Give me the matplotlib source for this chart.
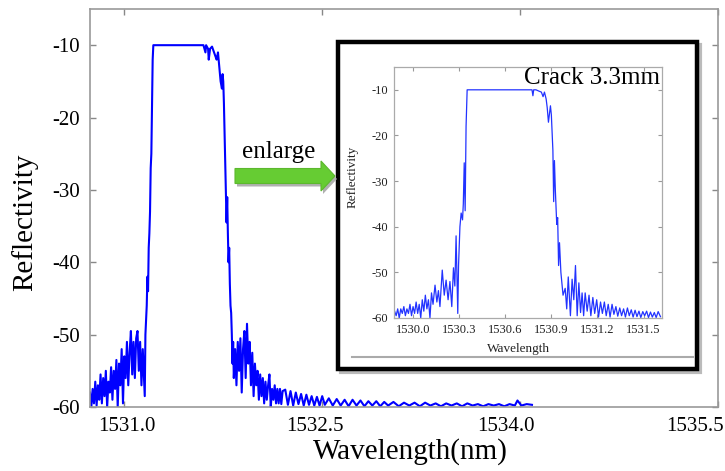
import matplotlib
matplotlib.use("Agg")
import matplotlib.pyplot as plt
import matplotlib.transforms as mtransforms
from matplotlib.patches import FancyArrow, Rectangle
from matplotlib.lines import Line2D

plt.rcParams['font.family'] = ['Liberation Serif', 'DejaVu Serif']
plt.rcParams['axes.unicode_minus'] = False

# espectro principal
wl_main = [1530.74, 1530.75, 1530.76, 1530.77, 1530.78, 1530.79, 1530.80, 1530.81,
           1530.82, 1530.83, 1530.84, 1530.85, 1530.86, 1530.87, 1530.88, 1530.89,
           1530.90, 1530.91, 1530.92, 1530.93, 1530.94, 1530.95, 1530.96, 1530.97,
           1530.98, 1530.99, 1531.00, 1531.01, 1531.02, 1531.03, 1531.04, 1531.05,
           1531.06, 1531.07, 1531.08, 1531.09, 1531.10, 1531.11, 1531.12, 1531.13,
           1531.14, 1531.155, 1531.16, 1531.17, 1531.175, 1531.18, 1531.185, 1531.19,
           1531.195, 1531.20, 1531.205, 1531.21, 1531.215, 1531.22, 1531.40, 1531.60,
           1531.615, 1531.62, 1531.635, 1531.64, 1531.65, 1531.665, 1531.68, 1531.69,
           1531.70, 1531.71, 1531.72, 1531.73, 1531.74, 1531.745, 1531.75, 1531.755,
           1531.76, 1531.765, 1531.77, 1531.775, 1531.78, 1531.785, 1531.79, 1531.795,
           1531.80, 1531.805, 1531.81, 1531.815, 1531.82, 1531.825, 1531.83, 1531.84,
           1531.85, 1531.86, 1531.87, 1531.88, 1531.89, 1531.90, 1531.91, 1531.92,
           1531.93, 1531.94, 1531.95, 1531.96, 1531.97, 1531.98, 1531.99, 1532.00,
           1532.01, 1532.02, 1532.03, 1532.04, 1532.05, 1532.06, 1532.07, 1532.08,
           1532.09, 1532.10, 1532.11, 1532.12, 1532.13, 1532.14, 1532.15, 1532.16,
           1532.17, 1532.18, 1532.19, 1532.20, 1532.22, 1532.24, 1532.26, 1532.28,
           1532.30, 1532.32, 1532.34, 1532.36, 1532.38, 1532.40, 1532.42, 1532.44,
           1532.46, 1532.48, 1532.50, 1532.52, 1532.55, 1532.58, 1532.61, 1532.64,
           1532.67, 1532.70, 1532.73, 1532.76, 1532.79, 1532.82, 1532.85, 1532.88,
           1532.91, 1532.94, 1532.97, 1533.00, 1533.04, 1533.08, 1533.12, 1533.16,
           1533.20, 1533.24, 1533.28, 1533.32, 1533.36, 1533.40, 1533.44, 1533.48,
           1533.52, 1533.56, 1533.60, 1533.64, 1533.68, 1533.72, 1533.76, 1533.80,
           1533.84, 1533.88, 1533.92, 1533.96, 1533.98, 1534.01, 1534.05, 1534.09]
r_main = [-58.0, -60.0, -57.5, -59.5, -56.5, -59.8, -57.0, -59.0,
          -55.5, -59.5, -56.0, -58.5, -55.0, -60.0, -56.5, -58.0,
          -54.5, -59.0, -55.0, -57.5, -53.5, -60.0, -54.0, -57.0,
          -52.0, -59.5, -53.0, -56.0, -51.0, -57.0, -52.5, -49.5,
          -55.5, -51.0, -56.0, -50.5, -49.5, -55.0, -51.0, -57.0,
          -52.0, -58.5, -50.0, -46.0, -42.0, -44.0, -38.0, -36.0,
          -33.0, -27.0, -25.0, -18.0, -12.0, -10.0, -10.0, -10.0,
          -11.0, -10.0, -10.5, -12.0, -10.5, -10.2, -11.0, -11.5,
          -12.0, -11.0, -13.0, -15.0, -16.0, -14.0, -15.0, -18.0,
          -22.0, -26.0, -30.0, -34.5, -31.0, -36.0, -40.0, -38.0,
          -43.0, -46.0, -47.0, -50.0, -54.0, -51.0, -56.0, -52.0,
          -57.0, -51.0, -55.0, -50.5, -58.0, -52.0, -49.5, -56.0,
          -48.5, -54.0, -51.0, -57.0, -52.5, -58.5, -54.0, -57.0,
          -55.0, -59.0, -55.5, -58.5, -56.0, -59.5, -56.5, -59.0,
          -57.0, -55.5, -60.0, -57.5, -59.0, -57.0, -59.5, -57.5,
          -59.5, -57.5, -59.6, -57.8, -57.6, -59.7, -57.8, -59.8,
          -58.0, -59.6, -58.2, -59.8, -58.3, -59.7, -58.5, -59.8,
          -58.6, -59.8, -58.5, -59.7, -58.8, -59.8, -58.9, -59.8,
          -59.0, -59.9, -59.0, -59.8, -59.1, -59.9, -59.2, -59.8,
          -59.2, -59.9, -59.3, -59.8, -59.3, -59.9, -59.4, -59.8,
          -59.4, -59.9, -59.4, -59.8, -59.5, -59.9, -59.5, -59.8,
          -59.5, -59.9, -59.5, -59.8, -59.6, -59.9, -59.6, -59.8,
          -59.6, -59.9, -59.6, -59.8, -59.1, -59.8, -59.6, -59.7]

# espectro del recuadro ampliado
wl_ins = [1529.88, 1529.89, 1529.90, 1529.91, 1529.92, 1529.93, 1529.94, 1529.95,
          1529.96, 1529.97, 1529.98, 1529.99, 1530.00, 1530.01, 1530.02, 1530.03,
          1530.04, 1530.05, 1530.06, 1530.07, 1530.08, 1530.09, 1530.10, 1530.11,
          1530.12, 1530.13, 1530.143, 1530.155, 1530.165, 1530.175, 1530.19, 1530.203,
          1530.215, 1530.228, 1530.24, 1530.252, 1530.263, 1530.272, 1530.28, 1530.291,
          1530.296, 1530.305, 1530.313, 1530.322, 1530.327, 1530.333, 1530.339, 1530.345,
          1530.352, 1530.60, 1530.774, 1530.78, 1530.785, 1530.80, 1530.82, 1530.835,
          1530.846, 1530.855, 1530.866, 1530.873, 1530.881, 1530.894, 1530.90, 1530.91,
          1530.915, 1530.92, 1530.926, 1530.935, 1530.941, 1530.947, 1530.953, 1530.962,
          1530.976, 1530.99, 1531.00, 1531.01, 1531.024, 1531.035, 1531.046, 1531.057,
          1531.068, 1531.079, 1531.09, 1531.10, 1531.11, 1531.12, 1531.133, 1531.145,
          1531.157, 1531.17, 1531.182, 1531.195, 1531.207, 1531.22, 1531.232, 1531.245,
          1531.257, 1531.27, 1531.282, 1531.295, 1531.307, 1531.32, 1531.332, 1531.345,
          1531.357, 1531.37, 1531.382, 1531.395, 1531.407, 1531.42, 1531.432, 1531.445,
          1531.457, 1531.47, 1531.482, 1531.495, 1531.507, 1531.52, 1531.532, 1531.545,
          1531.557, 1531.57, 1531.582, 1531.595, 1531.61]
r_ins = [-58.5, -59.5, -58.0, -60.0, -58.0, -59.0, -57.5, -59.5,
         -58.0, -59.0, -57.0, -59.5, -57.5, -59.0, -56.5, -59.0,
         -57.0, -60.0, -56.0, -58.5, -55.0, -58.0, -56.0, -60.0,
         -54.5, -57.0, -52.8, -56.5, -54.0, -57.5, -49.5, -55.0,
         -51.7, -56.0, -52.0, -57.5, -49.0, -53.0, -42.0, -59.0,
         -48.5, -40.0, -37.0, -38.5, -35.0, -26.0, -36.5, -18.0,
         -10.0, -10.0, -10.0, -11.3, -10.0, -10.0, -10.3, -10.5,
         -11.5, -10.5, -12.0, -13.9, -17.1, -13.5, -15.5, -23.3,
         -34.5, -25.5, -32.0, -39.5, -38.0, -48.5, -43.5, -50.0,
         -55.0, -53.5, -58.0, -51.0, -59.5, -51.5, -56.0, -48.5,
         -59.5, -52.3, -58.8, -54.5, -59.5, -54.5, -58.5, -55.0,
         -59.5, -55.5, -59.0, -56.0, -59.8, -56.5, -59.0, -56.5,
         -59.5, -57.0, -59.8, -57.0, -59.2, -57.5, -59.6, -57.8,
         -59.5, -58.0, -59.8, -57.8, -59.5, -58.2, -59.8, -58.3,
         -59.7, -58.5, -59.9, -58.6, -59.5, -58.5, -59.9, -58.7,
         -59.8, -58.8, -59.9, -58.6, -59.7]

main_xticks = [1531.0, 1532.5, 1534.0, 1535.5]
ins_xticks = [1530.0, 1530.3, 1530.6, 1530.9, 1531.2, 1531.5]
yticks = [-10, -20, -30, -40, -50, -60]

W, H = 725, 471
fig = plt.figure(figsize=(W / 100, H / 100), dpi=100)

# ejes principales
ax = fig.add_axes([90 / W, 1 - 407 / H, 628 / W, 398 / H])
ax.plot(wl_main, r_main, color='#0000ff', lw=1.5)
ax.set_xlim(1530.74, 1535.5)
ax.set_ylim(-60, -5)
ax.set_xticks(main_xticks)
ax.set_xticklabels([f'{v:.1f}' for v in main_xticks])
ax.set_yticks(yticks)
ax.tick_params(direction='in', length=4, width=1, color='#888888',
               top=True, right=True, labelsize=15)
ax.tick_params(axis='x', pad=7)
ax.tick_params(axis='y', pad=7)
for s in ax.spines.values():
    s.set_color('#999999')
    s.set_linewidth(1.2)
# en la figura original las etiquetas del eje x estan algo desplazadas
desplaz = [3, -7, -14, -23]
for lab, dx in zip(ax.get_xticklabels(), desplaz):
    lab.set_transform(lab.get_transform() +
                      mtransforms.ScaledTranslation(dx / 100, 0, fig.dpi_scale_trans))
fig.text(410 / W, 1 - 452 / H, 'Wavelength(nm)', fontsize=21, ha='center', va='center')
fig.text(25 / W, 1 - 222 / H, 'Reflectivity', fontsize=21, ha='center', va='center',
         rotation=90)

# capa para dibujar flecha y marco en pixeles
ov = fig.add_axes([0, 0, 1, 1])
ov.set_xlim(0, W)
ov.set_ylim(H, 0)
ov.axis('off')

ov.add_patch(Rectangle((341, 45), 359, 327, fill=False, lw=3, ec='#bbbbbb'))
ov.add_patch(Rectangle((338, 42), 359, 327, fill=True, fc='white', lw=3.2, ec='black'))
ov.add_line(Line2D([352, 693], [357, 357], color='#aaaaaa', lw=1.5))

ov.add_patch(FancyArrow(237, 179, 100, 0, width=15, head_width=30, head_length=14,
                        length_includes_head=True, fc='#b0b0b0', ec='none'))
ov.add_patch(FancyArrow(235, 176, 100, 0, width=15, head_width=30, head_length=14,
                        length_includes_head=True, fc='#66cc33', ec='#5cb82e', lw=0.8))
ov.text(279, 152, 'enlarge', fontsize=18, ha='center', va='center')

# recuadro ampliado
ax2 = fig.add_axes([394 / W, 1 - 318 / H, 268 / W, 251 / H])
ax2.plot(wl_ins, r_ins, color='#2233ff', lw=0.9)
ax2.set_xlim(1529.876, 1531.62)
ax2.set_ylim(-60, -5)
ax2.set_xticks(ins_xticks)
ax2.set_xticklabels([f'{v:.1f}' for v in ins_xticks])
ax2.set_yticks(yticks)
ax2.tick_params(direction='in', length=3, width=0.8, color='#999999',
                top=True, right=True, labelsize=9, labelcolor='#222222', pad=4)
for s in ax2.spines.values():
    s.set_color('#aaaaaa')
    s.set_linewidth(0.9)
fig.text(518 / W, 1 - 349 / H, 'Wavelength', fontsize=9.5, ha='center', va='center',
         color='#222222')
fig.text(353 / W, 1 - 177 / H, 'Reflectivity', fontsize=9.5, ha='center', va='center',
         rotation=90, color='#222222')
fig.text(660 / W, 1 - 78 / H, 'Crack 3.3mm', fontsize=18, ha='right', va='center')

fig.savefig('out.png', dpi=100)
